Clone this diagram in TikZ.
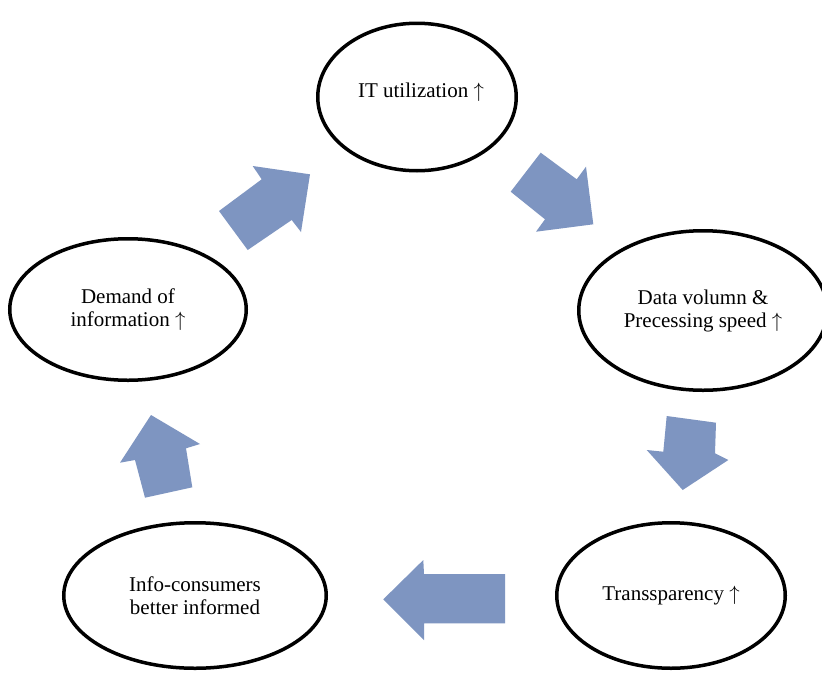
\documentclass[tikz,border=0pt]{standalone}
\usepackage{fontspec}
\setmainfont{Liberation Serif}
\usetikzlibrary{shapes.geometric}
\definecolor{arrowblue}{RGB}{126,149,193}
\newcommand{\upar}{$\uparrow$}
\tikzset{
  cyclenode/.style={draw=black, line width=3.5pt, ellipse, inner sep=0pt, align=center,
    font=\fontsize{21}{23}\selectfont, fill=white},
  blockarrow/.style={fill=arrowblue, draw=none}
}
\begin{document}
\begin{tikzpicture}[x=1pt,y=-1pt]
\useasboundingbox (0,0) rectangle (822,675);
\fill[white] (0,0) rectangle (822,675);
\node[cyclenode, minimum width=198.5pt, minimum height=147.5pt] (it) at (417,97) {};
\node[font=\fontsize{21}{23}\selectfont] (itlabel) at (421,92) {IT utilization \upar};
\node[cyclenode, minimum width=248.5pt, minimum height=159.5pt] (data) at (703,310.5) {Data volumn \&\\Precessing speed \upar};
\node[cyclenode, minimum width=228.5pt, minimum height=145.5pt] (trans) at (671,595.5) {Transsparency \upar};
\node[cyclenode, minimum width=262.5pt, minimum height=145.5pt] (info) at (195,595.5) {Info-consumers\\better informed};
\node[cyclenode, minimum width=236.5pt, minimum height=141.5pt] (demand) at (128,309.5) {Demand of\\information \upar};
% block arrows
\fill[blockarrow] (219,211) -- (261.7,179.3) -- (252.7,166) -- (310,174.3) -- (301,232) -- (291.7,220) -- (247.7,250) -- cycle;
\fill[blockarrow] (510.7,191.7) -- (540.7,152.7) -- (576.7,179.3) -- (586,166.7) -- (593.3,224.3) -- (536,231.7) -- (545,219.3) -- cycle;
\fill[blockarrow] (666.7,416) -- (716,422.7) -- (715,453.3) -- (728.3,460) -- (682.7,490) -- (646.7,450) -- (663.3,451.7) -- cycle;
\fill[blockarrow] (505,574) -- (505,623.3) -- (424,623.3) -- (424,640) -- (383.3,599.3) -- (423.3,560) -- (424,574) -- cycle;
\fill[blockarrow] (145,497.7) -- (192.3,487.3) -- (186,448.3) -- (200,444) -- (151,415) -- (120,462.7) -- (135,460) -- cycle;
\end{tikzpicture}
\end{document}
